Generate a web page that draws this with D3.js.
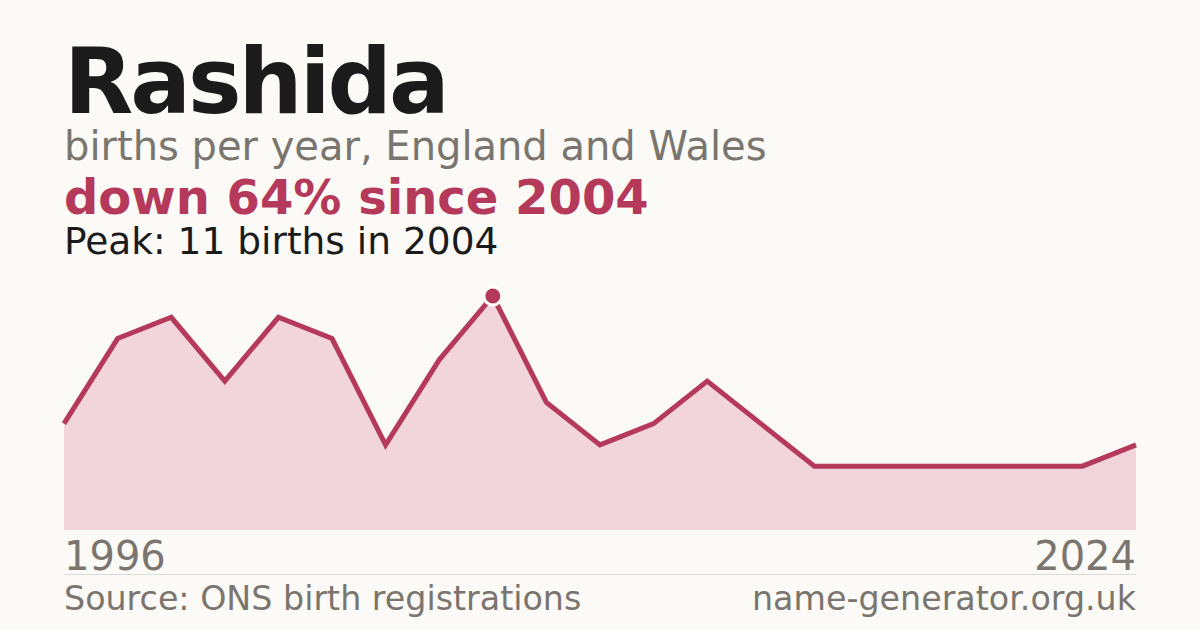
<!DOCTYPE html>
<html>
<head>
<meta charset="utf-8">
<script src="https://cdn.jsdelivr.net/npm/d3@7"></script>
<style>
  html, body { margin: 0; padding: 0; background: #fbfaf6; }
  svg { display: block; font-family: "DejaVu Sans", sans-serif; }
</style>
</head>
<body>
<svg width="1200" height="630"></svg>
<script>
//data (births per year)
var years = [1996, 1997, 1998, 1999, 2000, 2001, 2002, 2003, 2004, 2005, 2006,
  2007, 2008, 2010, 2012, 2014, 2016, 2018, 2020, 2022, 2024];
var births = [5, 9, 10, 7, 10, 9, 4, 8, 11, 6, 4, 5, 7, 5, 3, 3, 3, 3, 3, 3, 4];
var axisLabels = ["1996", "2024"];

//chart box
var plotLeft = 64, plotRight = 1136, plotTop = 296, plotBottom = 530;
var red = "#b5395a", grey = "#7a756e";

var svg = d3.select("svg");
svg.append("rect").attr("width", 1200).attr("height", 630).attr("fill", "#fbfaf6");

//headings
svg.append("text").attr("x", plotLeft).attr("y", 113)
  .attr("font-size", 90).attr("font-weight", "bold").attr("letter-spacing", -3)
  .attr("fill", "#1b1b1b").text("Rashida");
svg.append("text").attr("x", plotLeft).attr("y", 160)
  .attr("font-size", 40).attr("fill", grey)
  .text("births per year, England and Wales");
svg.append("text").attr("x", plotLeft).attr("y", 214)
  .attr("font-size", 48).attr("font-weight", "bold").attr("fill", red)
  .text("down 64% since 2004");
svg.append("text").attr("x", plotLeft).attr("y", 254)
  .attr("font-size", 37.5).attr("fill", "#1b1b1b")
  .text("Peak: 11 births in 2004");

//scales - points are spaced evenly, one per recorded year
var x = d3.scalePoint().domain(years).range([plotLeft, plotRight]);
var y = d3.scaleLinear().domain([0, d3.max(births)]).range([plotBottom, plotTop]);

var area = d3.area()
  .x(function(d, i) { return x(years[i]); })
  .y0(plotBottom)
  .y1(function(d) { return y(d); });
var line = d3.line()
  .x(function(d, i) { return x(years[i]); })
  .y(function(d) { return y(d); });

svg.append("path").datum(births).attr("d", area).attr("fill", "#f2d5da");
svg.append("path").datum(births).attr("d", line)
  .attr("fill", "none").attr("stroke", red).attr("stroke-width", 5)
  .attr("stroke-linejoin", "miter");

//peak marker
var peak = d3.maxIndex(births);
svg.append("circle")
  .attr("cx", x(years[peak])).attr("cy", y(births[peak])).attr("r", 9)
  .attr("fill", red).attr("stroke", "#ffffff").attr("stroke-width", 3);

//year labels
svg.append("text").attr("x", plotLeft).attr("y", 570)
  .attr("font-size", 40).attr("fill", grey).text(axisLabels[0]);
svg.append("text").attr("x", plotRight).attr("y", 570).attr("text-anchor", "end")
  .attr("font-size", 40).attr("fill", grey).text(axisLabels[1]);

//footer
svg.append("line").attr("x1", plotLeft).attr("x2", plotRight).attr("y1", 574.5).attr("y2", 574.5)
  .attr("stroke", "#dcdad4").attr("stroke-width", 1);
svg.append("text").attr("x", plotLeft).attr("y", 610)
  .attr("font-size", 33.3).attr("fill", grey).text("Source: ONS birth registrations");
svg.append("text").attr("x", plotRight).attr("y", 610).attr("text-anchor", "end")
  .attr("font-size", 33.3).attr("fill", grey).text("name-generator.org.uk");
</script>
</body>
</html>
